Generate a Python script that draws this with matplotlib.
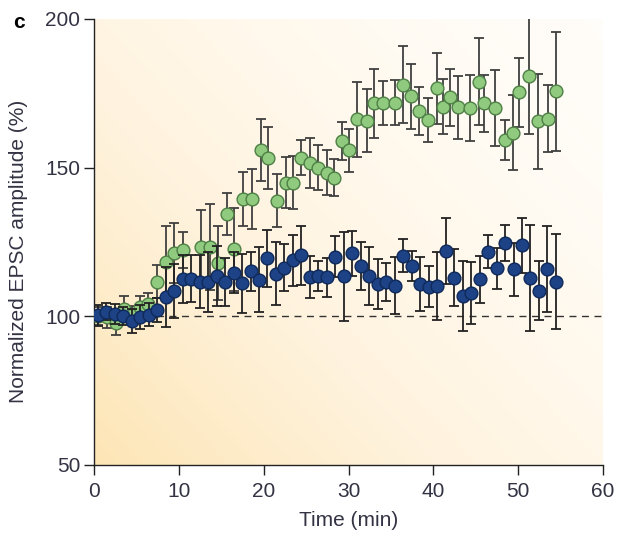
import numpy as np
import matplotlib
matplotlib.use("Agg")
import matplotlib.pyplot as plt
from matplotlib.colors import LinearSegmentedColormap

plt.rcParams['font.family'] = ['Liberation Sans', 'DejaVu Sans']

# ---- data ----
green_time = [0.45, 1.50, 2.56, 3.57, 4.5, 5.42, 6.40, 7.39, 8.49, 9.47, 10.53,
              12.62, 13.68, 14.66, 15.65, 16.54, 17.61, 18.67, 19.69, 20.55, 21.54,
              22.61, 23.50, 24.41, 25.47, 26.45, 27.44, 28.34, 29.28, 30.11, 30.98,
              32.16, 33.05, 34.12, 35.50, 36.47, 37.38, 38.33, 39.35, 40.41, 41.19,
              41.98, 42.96, 44.34, 45.44, 46.03, 47.29, 48.47, 49.37, 50.04, 51.33,
              52.28, 53.57, 54.48]
green_val = [100.0, 99.7, 97.7, 102.5, 100.5, 103.0, 104.0, 111.6, 118.4, 121.3, 122.2,
             123.3, 123.2, 117.9, 134.4, 122.6, 139.4, 139.4, 156.0, 153.2, 138.9,
             145.0, 145.0, 153.4, 151.6, 150.0, 148.3, 146.6, 159.0, 155.8, 166.2,
             165.8, 171.7, 171.7, 171.9, 177.9, 174.0, 169.0, 166.0, 176.7, 170.5,
             173.6, 170.3, 170.0, 178.9, 171.6, 170.0, 159.3, 161.8, 175.3, 180.7,
             165.6, 166.5, 175.7]
green_err = [3, 3.5, 4, 4.5, 3, 4, 4, 5.5, 12, 10, 6,
             12.6, 14.5, 12.5, 7, 14, 9, 10, 10.5, 10.5, 9,
             8.7, 9, 6, 8.5, 7.5, 7.5, 6.2, 6.3, 7.3, 12.5,
             10.5, 11.6, 7.5, 7.5, 13, 11, 8, 7.5, 12, 9.2,
             9.5, 10.5, 11, 14.6, 9.5, 12.8, 6.7, 12.6, 11.5, 19.5,
             16, 11.3, 20]

blue_time = [0.45, 1.45, 2.45, 3.45, 4.45, 5.45, 6.45, 7.45, 8.45, 9.45,
             10.45, 11.45, 12.45, 13.45, 14.45, 15.45, 16.45, 17.45, 18.45, 19.45,
             20.45, 21.45, 22.45, 23.45, 24.45, 25.45, 26.45, 27.45, 28.45, 29.45,
             30.45, 31.45, 32.45, 33.45, 34.45, 35.45, 36.45, 37.45, 38.45, 39.45,
             40.45, 41.45, 42.45, 43.45, 44.45, 45.45, 46.45, 47.45, 48.45, 49.45,
             50.45, 51.45, 52.45, 53.45, 54.45]
blue_val = [100.4, 101.6, 100.8, 100.2, 98.4, 99.7, 100.6, 102.1, 106.5, 108.6,
            112.5, 112.7, 111.7, 111.6, 113.5, 111.6, 114.7, 111.1, 115.1, 112.3,
            119.5, 114.4, 116.4, 118.8, 120.5, 113.2, 113.5, 113.1, 120.1, 113.5,
            121.2, 116.9, 113.5, 110.8, 111.6, 110.3, 120.4, 116.9, 110.8, 110.0,
            110.3, 122.0, 113.0, 106.8, 107.9, 112.4, 121.7, 116.1, 124.7, 115.8,
            123.9, 112.8, 108.6, 115.8, 111.7]
blue_err = [3.5, 3, 3.5, 3, 4, 4, 4, 4, 10, 9,
            8, 8, 9, 10, 10, 8, 7, 10, 6.5, 11,
            9.5, 10.5, 8, 8.6, 10, 7, 5, 6.6, 7, 15,
            7.5, 8, 9.7, 8.5, 6.3, 9.5, 5.5, 5, 9, 7,
            11.5, 11, 9.5, 11.7, 10.5, 8, 5.5, 7, 6, 9,
            9.3, 17.8, 10, 14.5, 16]

x_ticks = [0, 10, 20, 30, 40, 50, 60]
y_ticks = [50, 100, 150, 200]
baseline = 100

# ---- figure ----
W, H, DPI = 619, 538, 100
fig = plt.figure(figsize=(W / DPI, H / DPI), dpi=DPI)
fig.patch.set_facecolor('white')
ax = fig.add_axes([94 / W, (538 - 465) / H, (603 - 94) / W, (465 - 19) / H])

# background gradient (bottom-left orange -> top-right white)
u = np.linspace(0, 1, 300)
v = np.linspace(0, 1, 300)
U, V = np.meshgrid(u, v)
g = np.clip(1 - (0.55 * U + 0.45 * V), 0, 1) ** 1.5
cmap = LinearSegmentedColormap.from_list('bg', ['#fffdf9', '#fff3de', '#fde5b5'])
ax.imshow(g, cmap=cmap, origin='lower', extent=[0, 60, 50, 200], aspect='auto',
          zorder=0, vmin=0, vmax=1, interpolation='bicubic')

ax.axhline(baseline, color='#333333', lw=1.0, ls=(0, (5, 4)), zorder=1)

ax.errorbar(green_time, green_val, yerr=green_err, fmt='none', ecolor='#404040',
            elinewidth=1.3, capsize=3.8, capthick=1.3, zorder=2)
ax.plot(green_time, green_val, 'o', ms=9.2, mfc='#8fca7e', mec='#4e7f45', mew=1.0,
        zorder=3, ls='none')
ax.errorbar(blue_time, blue_val, yerr=blue_err, fmt='none', ecolor='#222222',
            elinewidth=1.3, capsize=3.8, capthick=1.3, zorder=4)
ax.plot(blue_time, blue_val, 'o', ms=9.2, mfc='#1d4285', mec='#0f2a5a', mew=1.0,
        zorder=5, ls='none')

ax.set_xlim(0, 60)
ax.set_ylim(50, 200)
ax.set_xticks(x_ticks)
ax.set_yticks(y_ticks)
for s in ['top', 'right']:
    ax.spines[s].set_visible(False)
for s in ['left', 'bottom']:
    ax.spines[s].set_color('#222222')
    ax.spines[s].set_linewidth(1.0)
ax.tick_params(direction='out', length=7, width=1.0, color='#222222',
               labelsize=15, labelcolor='#333344')
ax.tick_params(axis='x', pad=5.5)
ax.tick_params(axis='y', pad=3)
ax.set_xlabel('Time (min)', fontsize=15, color='#333344', labelpad=7)
ax.set_ylabel('Normalized EPSC amplitude (%)', fontsize=15, color='#333344')
ax.yaxis.set_label_coords(-66 / (603 - 94), 0.478)

fig.text(13 / W, 1 - 22 / H, 'c', fontsize=15, fontweight='bold', color='black',
         va='center', ha='left')

fig.savefig('out.png', dpi=DPI)
